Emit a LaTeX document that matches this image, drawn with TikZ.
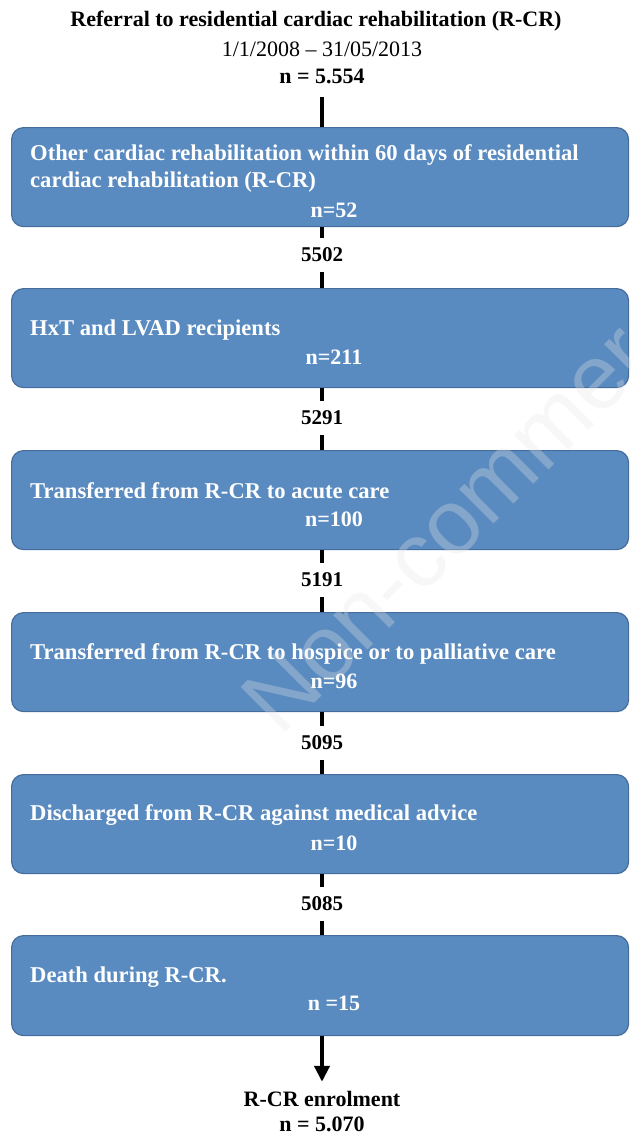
\documentclass[tikz,border=0pt]{standalone}
\usepackage{fontspec}
\setmainfont{Liberation Serif}
\newfontfamily\wmfont{Liberation Sans}
\usetikzlibrary{arrows.meta}
\definecolor{boxblue}{RGB}{90,139,192}
\definecolor{boxedge}{RGB}{68,108,156}
\definecolor{wmgray}{RGB}{230,230,230}
\begin{document}
\begin{tikzpicture}[x=1pt,y=-1pt,
  box/.style={draw=boxedge, line width=1.2pt, fill=boxblue, rounded corners=12pt,
    minimum width=617pt, minimum height=99pt, inner sep=0pt, anchor=north west},
  boxtxt/.style={text=white, font=\bfseries\fontsize{22.6}{27}\selectfont,
    anchor=west, inner sep=0pt, align=left},
  ntxt/.style={text=white, font=\bfseries\fontsize{22}{27}\selectfont, inner sep=0pt},
  count/.style={font=\bfseries\fontsize{21}{25}\selectfont, inner sep=0pt, minimum height=34pt},
  toptxt/.style={font=\fontsize{22}{26}\selectfont, inner sep=0pt},
  conn/.style={line width=4pt, black}
]
\useasboundingbox (0,0) rectangle (630,1135);

% header
\node[toptxt, font=\bfseries\fontsize{22}{26}\selectfont] (t1) at (316,21) {Referral to residential cardiac rehabilitation (R-CR)};
\node[toptxt] (t2) at (322,49) {1/1/2008 – 31/05/2013};
\node[toptxt, font=\bfseries\fontsize{22}{26}\selectfont, minimum height=42pt] (t3) at (322,76) {n = 5.554};

% boxes
\node[box] (b1) at (11,127) {};
\node[box] (b2) at (11,288) {};
\node[box] (b3) at (11,450) {};
\node[box] (b4) at (11,612) {};
\node[box] (b5) at (11,774) {};
\node[box, minimum height=100pt] (b6) at (11,935) {};

% box texts
\node[boxtxt] (l1) at (30,168) {Other cardiac rehabilitation within 60 days of residential\\cardiac rehabilitation (R-CR)};
\node[ntxt] (n1) at (334,210) {n=52};
\node[boxtxt] (l2) at (30,330) {HxT and LVAD recipients};
\node[ntxt] (n2) at (334,357) {n=211};
\node[boxtxt] (l3) at (30,491) {Transferred from R-CR to acute care};
\node[ntxt] (n3) at (334,519) {n=100};
\node[boxtxt] (l4) at (30,654) {Transferred from R-CR to hospice or to palliative care};
\node[ntxt] (n4) at (334,681) {n=96};
\node[boxtxt] (l5) at (30,815) {Discharged from R-CR against medical advice};
\node[ntxt] (n5) at (334,843) {n=10};
\node[boxtxt] (l6) at (30,977) {Death during R-CR.};
\node[ntxt] (n6) at (334,1003) {n =15};

% counts between boxes
\node[count] (c1) at (322,255) {5502};
\node[count] (c2) at (322,418) {5291};
\node[count] (c3) at (322,580) {5191};
\node[count] (c4) at (322,743) {5095};
\node[count] (c5) at (322,904) {5085};

% final
\node[toptxt, font=\bfseries\fontsize{22}{26}\selectfont, minimum height=34pt] (e1) at (322,1099) {R-CR enrolment};
\node[toptxt, font=\bfseries\fontsize{22}{26}\selectfont] (e2) at (322,1124) {n = 5.070};

% connectors
\draw[conn] (t3.south) -- (t3.south |- b1.north);
\draw[conn] (c1.north |- b1.south) -- (c1.north);
\draw[conn] (c1.south) -- (c1.south |- b2.north);
\draw[conn] (c2.north |- b2.south) -- (c2.north);
\draw[conn] (c2.south) -- (c2.south |- b3.north);
\draw[conn] (c3.north |- b3.south) -- (c3.north);
\draw[conn] (c3.south) -- (c3.south |- b4.north);
\draw[conn] (c4.north |- b4.south) -- (c4.north);
\draw[conn] (c4.south) -- (c4.south |- b5.north);
\draw[conn] (c5.north |- b5.south) -- (c5.north);
\draw[conn] (c5.south) -- (c5.south |- b6.north);
\draw[conn, -{Triangle[width=15pt,length=16pt]}] (e1.north |- b6.south) -- (e1.north);

% faint watermark
\begin{scope}
\clip (0,0) rectangle (630,1135);
\node[text=wmgray, opacity=0.3, font=\wmfont\fontsize{92}{92}\selectfont, rotate=45, anchor=base west, inner sep=0pt] (wm) at (280,738) {Non-commercial use only};
\end{scope}
\end{tikzpicture}
\end{document}
